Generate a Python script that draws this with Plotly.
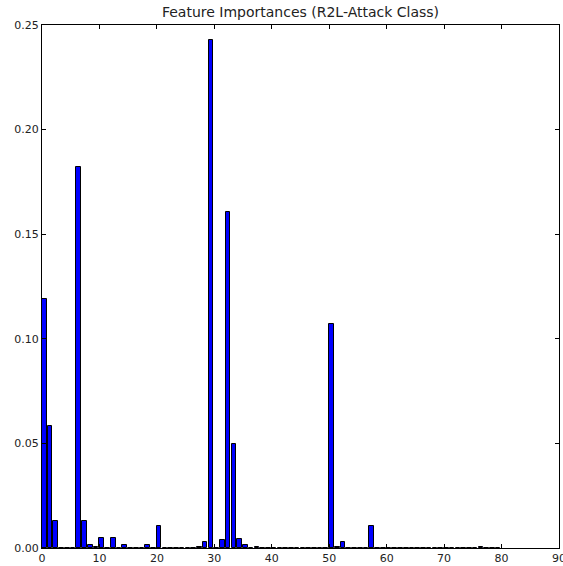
import plotly.graph_objects as go

# Feature importances by feature index (R2L-Attack Class)
feature_index = list(range(80))
importances = [0.0] * 80
_known = {
    0: 0.119, 1: 0.0585, 2: 0.0129, 6: 0.182, 7: 0.0129, 8: 0.0014, 9: 0.0005,
    10: 0.0049, 12: 0.0049, 14: 0.0014, 18: 0.0014, 20: 0.0105,
    27: 0.0004, 28: 0.0031, 29: 0.2428, 31: 0.0037, 32: 0.1606, 33: 0.0496,
    34: 0.0043, 35: 0.0014, 37: 0.0005, 50: 0.107, 51: 0.0005, 52: 0.003,
    57: 0.0105, 76: 0.0005,
}
for k, v in _known.items():
    importances[k] = v

title_text = "Feature Importances (R2L-Attack Class)"
x_ticks = [0, 10, 20, 30, 40, 50, 60, 70, 80, 90]
y_ticks = [0.0, 0.05, 0.10, 0.15, 0.20, 0.25]
y_tick_labels = ["0.00", "0.05", "0.10", "0.15", "0.20", "0.25"]

fig = go.Figure()
fig.add_trace(go.Bar(
    x=feature_index,
    y=importances,
    width=0.8,
    offset=0,
    marker=dict(color="#0000ff", line=dict(color="black", width=1)),
))

axis_common = dict(
    showline=True, linecolor="black", linewidth=1, mirror="ticks",
    ticks="inside", ticklen=4, tickcolor="black", tickwidth=1,
    showgrid=False, zeroline=False, ticklabeloverflow="allow", automargin=False,
    tickfont=dict(family="DejaVu Sans", size=11, color="#222"),
)

fig.update_layout(
    template="none",
    width=563, height=566,
    margin=dict(l=42, r=4, t=25, b=18),
    paper_bgcolor="white", plot_bgcolor="white",
    showlegend=False,
    bargap=0,
    title=dict(text=title_text, x=0.5, xanchor="center", y=1 - 12 / 566, yanchor="middle",
               xref="paper",
               font=dict(family="DejaVu Sans", size=14, color="#222")),
    xaxis=dict(range=[0, 90], tickvals=x_ticks, **axis_common),
    yaxis=dict(range=[0, 0.25], tickvals=y_ticks, ticktext=y_tick_labels, **axis_common),
)

fig.write_html(
    "out.html",
    config={"displayModeBar": False},
    post_script=(
        "document.documentElement.style.overflow='hidden';"
        "document.body.style.margin='0';document.body.style.overflow='hidden';"
        "var d=document.querySelector('.plotly-graph-div');if(d){d.style.overflow='hidden';}"
    ),
)
